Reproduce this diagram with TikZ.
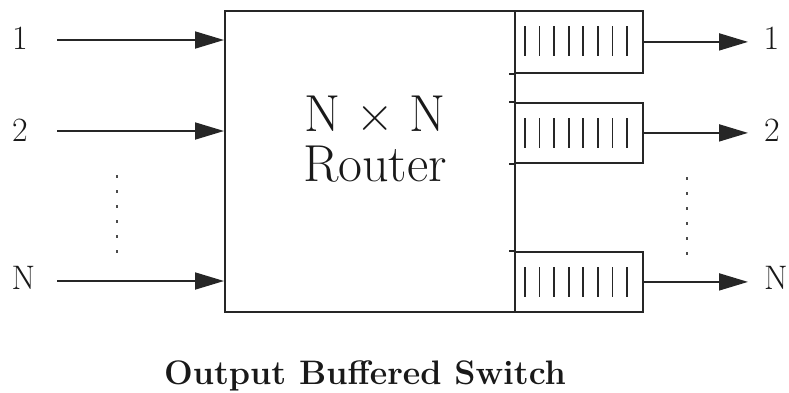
\documentclass[tikz,border=0pt]{standalone}
\usetikzlibrary{arrows.meta,calc}
\begin{document}
\begin{tikzpicture}[x=1pt,y=-1pt,
  ln/.style={line width=1.8pt, draw=black!85},
  arr/.style={line width=1.8pt, draw=black!85, -{Triangle[length=29pt,width=17pt]}},
  lbl/.style={font=\fontsize{34}{34}\selectfont, inner sep=0pt, text=black!90},
  buf/.style={draw=black!85, line width=1.8pt, minimum width=128pt, minimum height=61pt, inner sep=0pt, anchor=north west},
  bar/.style={line width=1.8pt, draw=black!85},
  dots/.style={line width=2pt, draw=black!70, dash pattern=on 3pt off 12pt}]
\useasboundingbox (0,0) rectangle (789,392);
% router
\node[draw=black!85, line width=1.8pt, minimum width=290pt, minimum height=301pt, anchor=north west, inner sep=0pt] (router) at (224,10) {};
\node[font=\fontsize{52}{52}\selectfont, anchor=base, inner sep=0pt, text=black!90] (t1) at (375,131) {N × N};
\node[font=\fontsize{52}{52}\selectfont, anchor=base, inner sep=0pt, text=black!90] (t2) at (375,181) {Router};
% buffers
\node[buf, minimum height=62pt] (buf1) at (514,10) {};
\node[buf, minimum height=60pt] (buf2) at (514,102) {};
\node[buf, minimum height=60pt] (bufN) at (514,251) {};
\foreach \b in {buf1,buf2,bufN}{
  \foreach \i in {0,...,7}{
    \draw[bar] ($(\b.north west)+(11+\i*14.57,16)$) -- ++(0,30);
  }
}
% ticks
\draw[ln] ($(buf1.south west)+(-5,0)$) -- (buf1.south west);
\draw[ln] ($(buf2.north west)+(-5,0)$) -- (buf2.north west);
\draw[ln] ($(buf2.south west)+(-5,0)$) -- (buf2.south west);
\draw[ln] ($(bufN.north west)+(-5,0)$) -- (bufN.north west);
% input labels and arrows
\node[lbl] (in1) at (20,38.5) {1};
\node[lbl] (in2) at (20,130) {2};
\node[lbl] (inN) at (23.5,278) {N};
\coordinate (s1) at (57,40);
\coordinate (s2) at (57,131);
\coordinate (sN) at (57,281);
\draw[arr] (s1) -- (router.west |- s1);
\draw[arr] (s2) -- (router.west |- s2);
\draw[arr] (sN) -- (router.west |- sN);
% output labels and arrows
\node[lbl] (out1) at (771.5,38.5) {1};
\node[lbl] (out2) at (772,130) {2};
\node[lbl] (outN) at (776,278) {N};
\coordinate (e1) at (748,41);
\draw[arr] (buf1.east) -- (buf1.east -| e1);
\draw[arr] (buf2.east) -- (buf2.east -| e1);
\draw[arr] (bufN.east) -- (bufN.east -| e1);
% dots
\draw[dots] (117,175) -- (117,254);
\draw[dots] (687,177) -- (687,256);
% title
\node[font=\bfseries\fontsize{34}{34}\selectfont, anchor=base, inner sep=0pt, text=black!90] (title) at (365,384) {Output Buffered Switch};
\end{tikzpicture}
\end{document}
